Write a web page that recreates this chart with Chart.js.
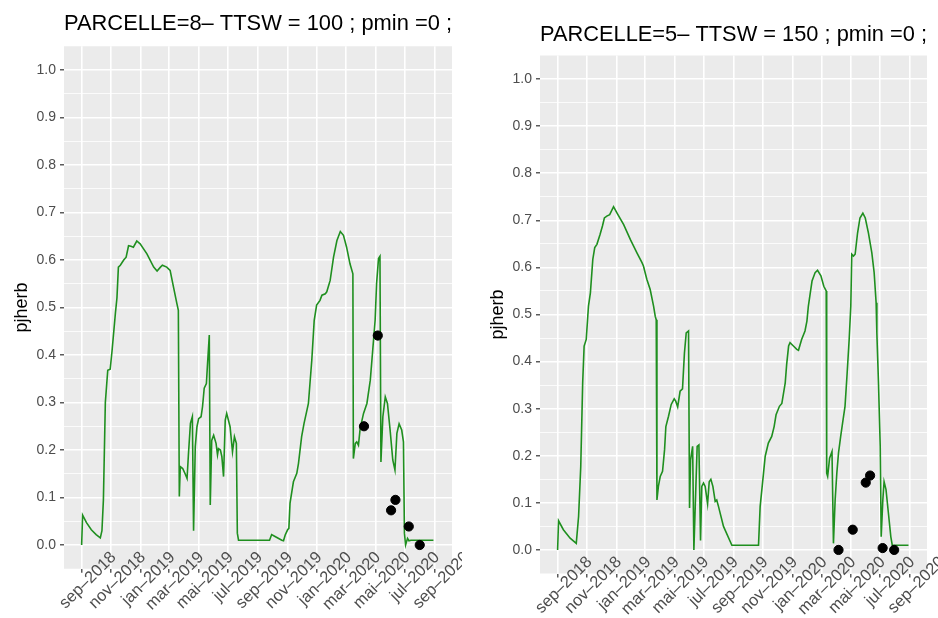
<!DOCTYPE html>
<html>
<head>
<meta charset="utf-8">
<script src="https://cdn.jsdelivr.net/npm/chart.js@4.4.0/dist/chart.umd.min.js"></script>
<style>
  html, body { margin: 0; padding: 0; background: #fff; }
  body { width: 938px; height: 618px; position: relative; overflow: hidden; }
  .panel { position: absolute; top: 0; width: 462px; height: 618px; }
  #left { left: 0; }
  #right { left: 476px; }
</style>
</head>
<body>
<div class="panel" id="left"><canvas id="leftChart"></canvas></div>
<div class="panel" id="right"><canvas id="rightChart"></canvas></div>
<script>
// x is "days since 1 sep 2018"
const monthDays = [0, 61, 122, 181, 242, 303, 365, 426, 487, 547, 608, 669, 731];
const monthLabels = ['sep–2018', 'nov–2018', 'jan–2019', 'mar–2019', 'mai–2019', 'jul–2019',
  'sep–2019', 'nov–2019', 'jan–2020', 'mar–2020', 'mai–2020', 'jul–2020', 'sep–2020'];
const yTicks = [0, 0.05, 0.1, 0.15, 0.2, 0.25, 0.3, 0.35, 0.4, 0.45, 0.5,
  0.55, 0.6, 0.65, 0.7, 0.75, 0.8, 0.85, 0.9, 0.95, 1.0];

// PARCELLE 8
const leftDays = [
  0, 2, 10, 20, 30, 38.6, 42, 45, 49, 54,
  59, 63, 70, 73, 76, 80, 87, 92, 97, 102,
  107, 114, 121, 135, 149, 156, 163, 167, 176, 183,
  190, 197, 200,
  202, 204, 209, 214, 218, 221, 225, 227, 229, 231.5,
  235, 238.5, 242, 247, 250, 253.5, 258, 260, 264, 266,
  269, 273, 278, 281, 283, 287, 290, 293.5, 297, 300,
  307, 312, 316, 320, 322, 324.5,
  388.6, 393, 400, 414, 417.5, 421, 426, 428.6, 431, 438,
  445, 448.5, 455, 460, 466, 469, 476, 481, 486, 493,
  497, 504, 507, 514, 521, 528, 535, 541.5, 548, 555,
  561,
  562, 566, 569, 572.5, 576, 583, 590, 597, 602, 607,
  610, 614, 617, 619, 623, 628, 632.5, 638, 643.5, 648,
  652, 656.6, 662, 665.6, 667.6, 670, 674, 677, 681, 727.6
];
const leftPjherb = [
  0, 0.063, 0.047, 0.032, 0.022, 0.015, 0.03, 0.095, 0.30, 0.368,
  0.37, 0.41, 0.49, 0.52, 0.585, 0.589, 0.60, 0.606, 0.63, 0.629,
  0.627, 0.64, 0.634, 0.613, 0.585, 0.577, 0.585, 0.589, 0.585, 0.578,
  0.543, 0.508, 0.494,
  0.102, 0.165, 0.161, 0.15, 0.14, 0.193, 0.256, 0.263, 0.27, 0.03,
  0.207, 0.249, 0.266, 0.27, 0.291, 0.33, 0.34, 0.375, 0.442, 0.084,
  0.22, 0.231, 0.214, 0.19, 0.203, 0.2, 0.186, 0.144, 0.263, 0.277,
  0.249, 0.196, 0.228, 0.214, 0.025, 0.01,
  0.01, 0.022, 0.018, 0.01, 0.009, 0.021, 0.032, 0.035, 0.088, 0.133,
  0.151, 0.172, 0.228, 0.256, 0.284, 0.298, 0.389, 0.473, 0.505, 0.515,
  0.526, 0.529, 0.533, 0.557, 0.606, 0.641, 0.66, 0.652, 0.627, 0.592,
  0.571,
  0.182, 0.214, 0.217, 0.21, 0.245, 0.277, 0.298, 0.347, 0.41, 0.473,
  0.55, 0.603, 0.608, 0.175, 0.27, 0.312, 0.298, 0.242, 0.179, 0.158,
  0.235, 0.255, 0.242, 0.217, 0.025, 0.0, 0.014, 0.009, 0.01, 0.01
];
const leftObsDays = [584, 612.5, 640, 649, 676.6, 699.3];
const leftObs = [0.25, 0.441, 0.073, 0.095, 0.039, 0.0];

// PARCELLE 5
const rightDays = [
  0, 2, 12, 26, 38.7, 43.5, 48, 52, 55, 59.4,
  64, 68, 73, 77, 81.5, 88, 93, 97, 102, 108,
  116, 123, 137, 151, 164.5, 175, 178, 185, 192, 199,
  202.5, 204.5, 206, 209, 212.8, 217.6, 221.8, 224.5, 230, 235.6,
  241.8, 245, 249, 254, 259, 263, 266.7, 271.5, 273.6, 275.7,
  280, 282.6, 285.4, 289.4, 293, 296.4, 299, 302.6, 306, 311,
  314.4, 317.8, 322, 326.8, 330, 333.7, 344, 361.4, 416.6, 420,
  427, 430.5, 437, 444, 449, 453, 460, 465, 472, 475,
  479, 482, 489, 496, 499.5, 506, 513, 517, 520, 524,
  527.6, 534, 539, 546, 552, 557, 558, 560, 564, 569,
  572, 575.5, 579, 582.5, 587, 591, 596, 600, 604.6, 608,
  610, 613.5, 617, 622, 627, 633, 638, 644.6, 651.6, 656.4,
  660.5, 662, 665.4, 669, 671, 674.4, 677, 681, 686, 691,
  694, 727.6
];
const rightPjherb = [
  0, 0.062, 0.043, 0.025, 0.014, 0.071, 0.177, 0.355, 0.433, 0.447,
  0.518, 0.546, 0.617, 0.642, 0.649, 0.67, 0.688, 0.705, 0.709, 0.712,
  0.729, 0.716, 0.691, 0.659, 0.631, 0.61, 0.603, 0.575, 0.553, 0.518,
  0.496, 0.489, 0.106, 0.135, 0.156, 0.167, 0.213, 0.262, 0.284, 0.309,
  0.321, 0.316, 0.304, 0.337, 0.342, 0.418, 0.461, 0.465, 0.089, 0.191,
  0.22, 0.0, 0.092, 0.22, 0.223, 0.02, 0.135, 0.142, 0.135, 0.098,
  0.145, 0.15, 0.135, 0.103, 0.106, 0.092, 0.05, 0.01, 0.01, 0.092,
  0.163, 0.199, 0.227, 0.241, 0.262, 0.287, 0.305, 0.311, 0.355, 0.394,
  0.433, 0.44, 0.433, 0.426, 0.424, 0.447, 0.465, 0.486, 0.518, 0.546,
  0.571, 0.589, 0.594, 0.582, 0.56, 0.55, 0.163, 0.156, 0.195, 0.209,
  0.014, 0.106, 0.163, 0.206, 0.241, 0.27, 0.305, 0.369, 0.447, 0.518,
  0.628, 0.624, 0.628, 0.673, 0.705, 0.715, 0.705, 0.673, 0.631, 0.589,
  0.525, 0.461, 0.355, 0.22, 0.028, 0.106, 0.145, 0.128, 0.078, 0.028,
  0.01, 0.01
];
const rightObsDays = [582.5, 612, 639, 648, 674, 697.9];
const rightObs = [0.0, 0.043, 0.143, 0.158, 0.004, 0.0];

const FONT = "'Liberation Sans', Arial, Helvetica, sans-serif";
Chart.defaults.font.family = FONT;

const panelBg = {
  id: 'panelBg',
  beforeDraw(chart) {
    const a = chart.chartArea;
    const ctx = chart.ctx;
    ctx.save();
    ctx.fillStyle = '#EBEBEB';
    ctx.fillRect(a.left, a.top, a.right - a.left, a.bottom - a.top);
    ctx.restore();
  }
};

function makeChart(id, title, days, vals, obsDays, obsVals, box) {
  const line = days.map((d, i) => ({ x: d, y: vals[i] }));
  const obs = obsDays.map((d, i) => ({ x: d, y: obsVals[i] }));

  return new Chart(document.getElementById(id), {
    type: 'line',
    data: {
      datasets: [
        {
          type: 'scatter',
          data: obs,
          backgroundColor: '#000',
          borderColor: '#000',
          pointRadius: 4.6,
          pointHoverRadius: 4.6,
          showLine: false,
          order: 0
        },
        {
          data: line,
          borderColor: '#1F8F1F',
          borderWidth: 1.6,
          pointRadius: 0,
          tension: 0,
          fill: false,
          order: 1
        }
      ]
    },
    options: {
      responsive: true,
      maintainAspectRatio: false,
      animation: false,
      layout: { padding: { left: 0, right: box.padRight, top: 0, bottom: 0 } },
      plugins: {
        legend: { display: false },
        tooltip: { enabled: false },
        title: {
          display: true,
          text: title,
          align: 'center',
          fullSize: false,
          color: '#000',
          font: { size: 22, weight: 'normal' },
          padding: { top: box.titleTop, bottom: box.titleBottom }
        }
      },
      scales: {
        x: {
          type: 'linear',
          min: -36.5,
          max: 766,
          afterBuildTicks: s => { s.ticks = monthDays.map(v => ({ value: v })); },
          afterFit: s => { s.height = box.xHeight; },
          border: { display: false },
          grid: { color: '#FFFFFF', lineWidth: 1.6, tickColor: '#333333', tickLength: 4, tickWidth: 1.2 },
          ticks: {
            autoSkip: false,
            minRotation: 45,
            maxRotation: 45,
            mirror: true,      // lets the rotated labels reach into the panel like ggplot's
            labelOffset: 46,
            padding: 7,
            color: '#4D4D4D',
            font: { size: 16.5 },
            callback: (v, i) => monthLabels[i]
          }
        },
        y: {
          min: -0.05,
          max: 1.05,
          afterBuildTicks: s => { s.ticks = yTicks.map(v => ({ value: v })); },
          afterFit: s => { s.width = 64; },
          border: { display: false },
          grid: {
            color: '#FFFFFF',
            lineWidth: c => (c.index % 2 === 0 ? 1.6 : 0.8),
            tickColor: c => (c.index % 2 === 0 ? '#333333' : 'rgba(0,0,0,0)'),
            tickLength: 4,
            tickWidth: 1.2
          },
          ticks: {
            color: '#4D4D4D',
            font: { size: 14 },
            padding: 4,
            callback: (v, i) => (i % 2 === 0 ? (Math.round(v * 10) / 10).toFixed(1) : '')
          },
          title: {
            display: true,
            text: 'pjherb',
            color: '#000',
            font: { size: 18 },
            padding: { top: 11, bottom: 0 }
          }
        }
      }
    },
    plugins: [panelBg]
  });
}

makeChart('leftChart', 'PARCELLE=8– TTSW = 100 ; pmin =0 ;', leftDays, leftPjherb, leftObsDays, leftObs,
  { padRight: 10, titleTop: 10.6, titleBottom: 9.25, xHeight: 49.25 });
makeChart('rightChart', 'PARCELLE=5– TTSW = 150 ; pmin =0 ;', rightDays, rightPjherb, rightObsDays, rightObs,
  { padRight: 11, titleTop: 21.3, titleBottom: 7.8, xHeight: 44.5 });
</script>
</body>
</html>
